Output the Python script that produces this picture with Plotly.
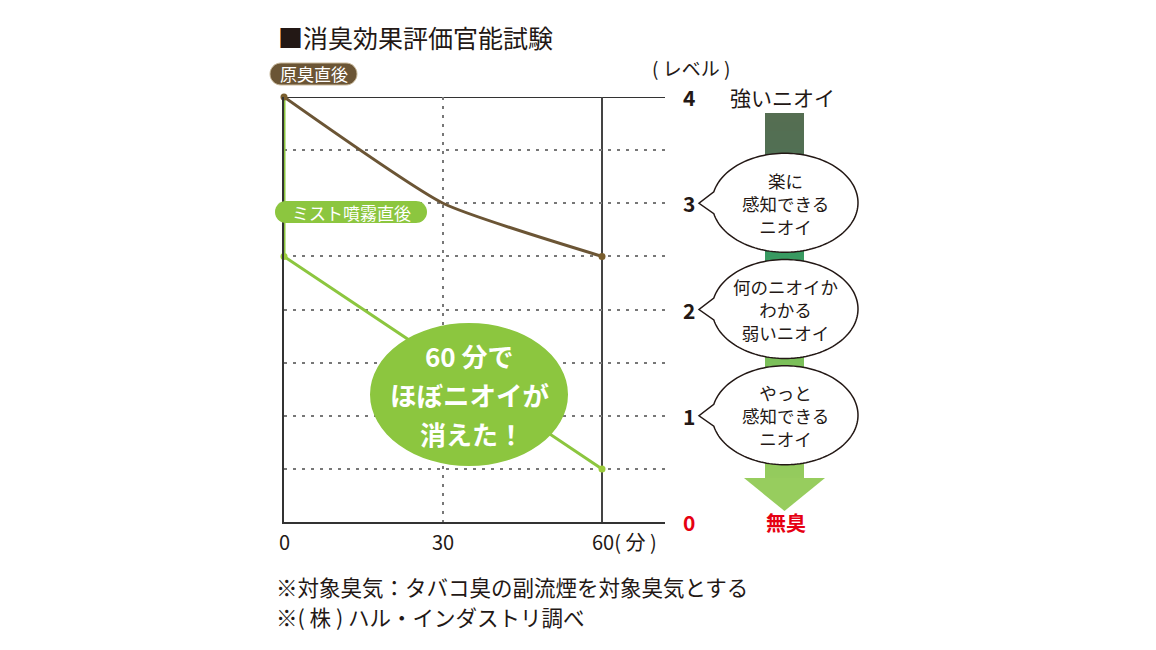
import numpy as np
import plotly.graph_objects as go

# ---------------- data ----------------
times = [0, 30, 60]
raw_odor = [4, 3, 2.5]            # 原臭直後
mist_times = [0, 0, 60]
mist_odor = [4, 2.5, 0.5]          # ミスト噴霧直後
x_tick_vals = [0, 30, 60]
x_tick_text = ["0", "30", "60( 分 )"]
level_vals = [4, 3, 2, 1, 0]
level_text = ["4", "3", "2", "1", "0"]
level_colors = ["#231815", "#231815", "#231815", "#231815", "#e60012"]
bubble_levels = [3, 2, 1]
bubble_text = ["楽に<br>感知できる<br>ニオイ",
               "何のニオイか<br>わかる<br>弱いニオイ",
               "やっと<br>感知できる<br>ニオイ"]
grid_levels = [0.5, 1, 1.5, 2, 2.5, 3, 3.5]

FONT = "Noto Sans CJK JP"
DARK = "#231815"
BROWN = "#6b5535"
GREEN = "#8cc63f"

# plot area in pixels
L, R, T, B = 284, 665, 97, 522
W, H = 1156, 650


def X(px):
    return (px - L) / (R - L)


def Y(py):
    return (B - py) / (B - T)


def pts_path(pts):
    return "M " + " L ".join(f"{X(x):.5f},{Y(y):.5f}" for x, y in pts) + " Z"


def bubble(cx, cy, rx, ry, tx, ty, half=11):
    phi = np.arcsin(half / ry)
    ang = np.linspace(np.pi + phi, 3 * np.pi - phi, 140)
    pts = [(cx + rx * np.cos(a), cy + ry * np.sin(a)) for a in ang]
    pts.append((tx, ty))
    return pts_path(pts)


def pill(x0, x1, y0, y1):
    r = (y1 - y0) / 2
    pts = []
    for a in np.linspace(np.pi / 2, 3 * np.pi / 2, 20):
        pts.append((x0 + r + r * np.cos(a), (y0 + y1) / 2 - r * np.sin(a)))
    for a in np.linspace(-np.pi / 2, np.pi / 2, 20):
        pts.append((x1 - r + r * np.cos(a), (y0 + y1) / 2 - r * np.sin(a)))
    return pts_path(pts)


fig = go.Figure()

fig.add_trace(go.Scatter(
    x=times, y=raw_odor, mode="lines",
    line=dict(color=BROWN, width=3, shape="spline", smoothing=0.5),
    cliponaxis=False, hoverinfo="skip"))
fig.add_trace(go.Scatter(
    x=mist_times, y=mist_odor, mode="lines",
    line=dict(color=GREEN, width=3), cliponaxis=False, hoverinfo="skip"))
fig.add_trace(go.Scatter(
    x=[times[0], times[-1]], y=[raw_odor[0], raw_odor[-1]], mode="markers",
    marker=dict(color="#7a5e2e", size=7), cliponaxis=False, hoverinfo="skip"))
fig.add_trace(go.Scatter(
    x=mist_times[1:], y=mist_odor[1:], mode="markers",
    marker=dict(color="#9ccc3c", size=7), cliponaxis=False, hoverinfo="skip"))

shapes = []
shapes.append(dict(type="line", xref="paper", yref="y", x0=0, x1=1, y0=4, y1=4,
                   line=dict(color="#333333", width=2), layer="below"))
shapes.append(dict(type="line", xref="x", yref="paper", x0=60, x1=60, y0=0, y1=1,
                   line=dict(color="#444444", width=2), layer="below"))

# gradient bar (arrow shaft)
stops_py = [113, 150, 255, 362, 480]
stops_rgb = [(86, 110, 82), (82, 112, 84), (56, 154, 98), (124, 192, 90), (150, 204, 94)]
for y0 in np.arange(113, 480, 3):
    y1 = min(y0 + 3, 480)
    ym = (y0 + y1) / 2
    rgb = [int(np.interp(ym, stops_py, [c[i] for c in stops_rgb])) for i in range(3)]
    shapes.append(dict(type="rect", xref="paper", yref="paper",
                       x0=X(765), x1=X(804), y0=Y(y1 + 0.6), y1=Y(y0),
                       fillcolor=f"rgb({rgb[0]},{rgb[1]},{rgb[2]})", line=dict(width=0)))
shapes.append(dict(type="path", xref="paper", yref="paper",
                   path=pts_path([(744, 478), (825, 478), (784.5, 511)]),
                   fillcolor="#97cd5e", line=dict(width=0)))

# speech bubbles
for lv in bubble_levels:
    cy = B - lv * (B - T) / 4
    shapes.append(dict(type="path", xref="paper", yref="paper",
                       path=bubble(785, cy - 0.5, 73, 49.5, 699, cy, half=11),
                       fillcolor="white", line=dict(color="#231815", width=1.5)))

# big green ellipse
shapes.append(dict(type="circle", xref="paper", yref="paper",
                   x0=X(370), x1=X(568), y0=Y(466), y1=Y(323),
                   fillcolor=GREEN, line=dict(width=0)))

# label pills
shapes.append(dict(type="path", xref="paper", yref="paper",
                   path=pill(270, 357, 63, 85), fillcolor=BROWN,
                   line=dict(color="#c8b89a", width=1)))
shapes.append(dict(type="path", xref="paper", yref="paper",
                   path=pill(275, 427, 201, 223), fillcolor=GREEN,
                   line=dict(width=0)))

ann = []


def add_text(text, px, py, size, color=DARK, bold=False, xanchor="center", yanchor="middle"):
    ann.append(dict(text=text, x=X(px), y=Y(py), xref="paper", yref="paper",
                    showarrow=False, xanchor=xanchor, yanchor=yanchor,
                    font=dict(family=FONT, size=size, color=color,
                              weight="bold" if bold else "normal")))


add_text("■消臭効果評価官能試験", 276, 37, 25, xanchor="left")
add_text("原臭直後", 313.5, 74, 17, color="white")
add_text("ミスト噴霧直後", 351, 212, 17, color="white")
add_text("( レベル )", 691, 67, 19)
add_text("強いニオイ", 782, 97, 21)
add_text("無臭", 786, 522, 20, color="#e60012", bold=True)

# level labels on the right
for v, t, c in zip(level_vals, level_text, level_colors):
    ann.append(dict(text=t, x=X(689), y=v, xref="paper", yref="y", showarrow=False,
                    xanchor="center", yanchor="middle",
                    font=dict(family=FONT, size=21, color=c, weight="bold")))

# bubble texts
for lv, t in zip(bubble_levels, bubble_text):
    ann.append(dict(text=t, x=X(785), y=lv, xref="paper", yref="y", showarrow=False,
                    xanchor="center", yanchor="middle",
                    font=dict(family=FONT, size=17.5, color=DARK)))

# x labels
for v, t in zip(x_tick_vals, x_tick_text):
    last = v == x_tick_vals[-1]
    ann.append(dict(text=t, x=v, y=Y(541), xref="x", yref="paper", showarrow=False,
                    xanchor="left" if last else "center", yanchor="middle",
                    xshift=-12 if last else 0,
                    font=dict(family=FONT, size=20, color=DARK)))

# green ellipse text
add_text("60 分で", 469, 355, 26, color="white", bold=True)
add_text("ほぼニオイが", 469, 394, 26.5, color="white", bold=True)
add_text("消えた！", 472, 433, 26, color="white", bold=True)

# footnotes
add_text("※対象臭気：タバコ臭の副流煙を対象臭気とする", 274, 586, 21.5, xanchor="left")
add_text("※( 株 ) ハル・インダストリ調べ", 274, 616, 21.5, xanchor="left")

fig.update_layout(
    width=W, height=H, autosize=False,
    margin=dict(l=L, r=W - R, t=T, b=H - B, pad=0),
    paper_bgcolor="white", plot_bgcolor="white",
    showlegend=False,
    shapes=shapes, annotations=ann,
    font=dict(family=FONT, color=DARK),
)
fig.update_xaxes(range=[0, 60 * (R - L) / (602 - L)], tickvals=[30], showticklabels=False,
                 showgrid=True, gridcolor="#777777", gridwidth=1.5, griddash="3px,6px",
                 showline=True, linecolor="#333333", linewidth=2, zeroline=False,
                 ticks="", fixedrange=True)
fig.update_yaxes(range=[0, 4], tickvals=grid_levels, showticklabels=False,
                 showgrid=True, gridcolor="#777777", gridwidth=1.5, griddash="3px,6px",
                 showline=True, linecolor="#333333", linewidth=2, zeroline=False,
                 ticks="", fixedrange=True)

fig.write_html("out.html")
